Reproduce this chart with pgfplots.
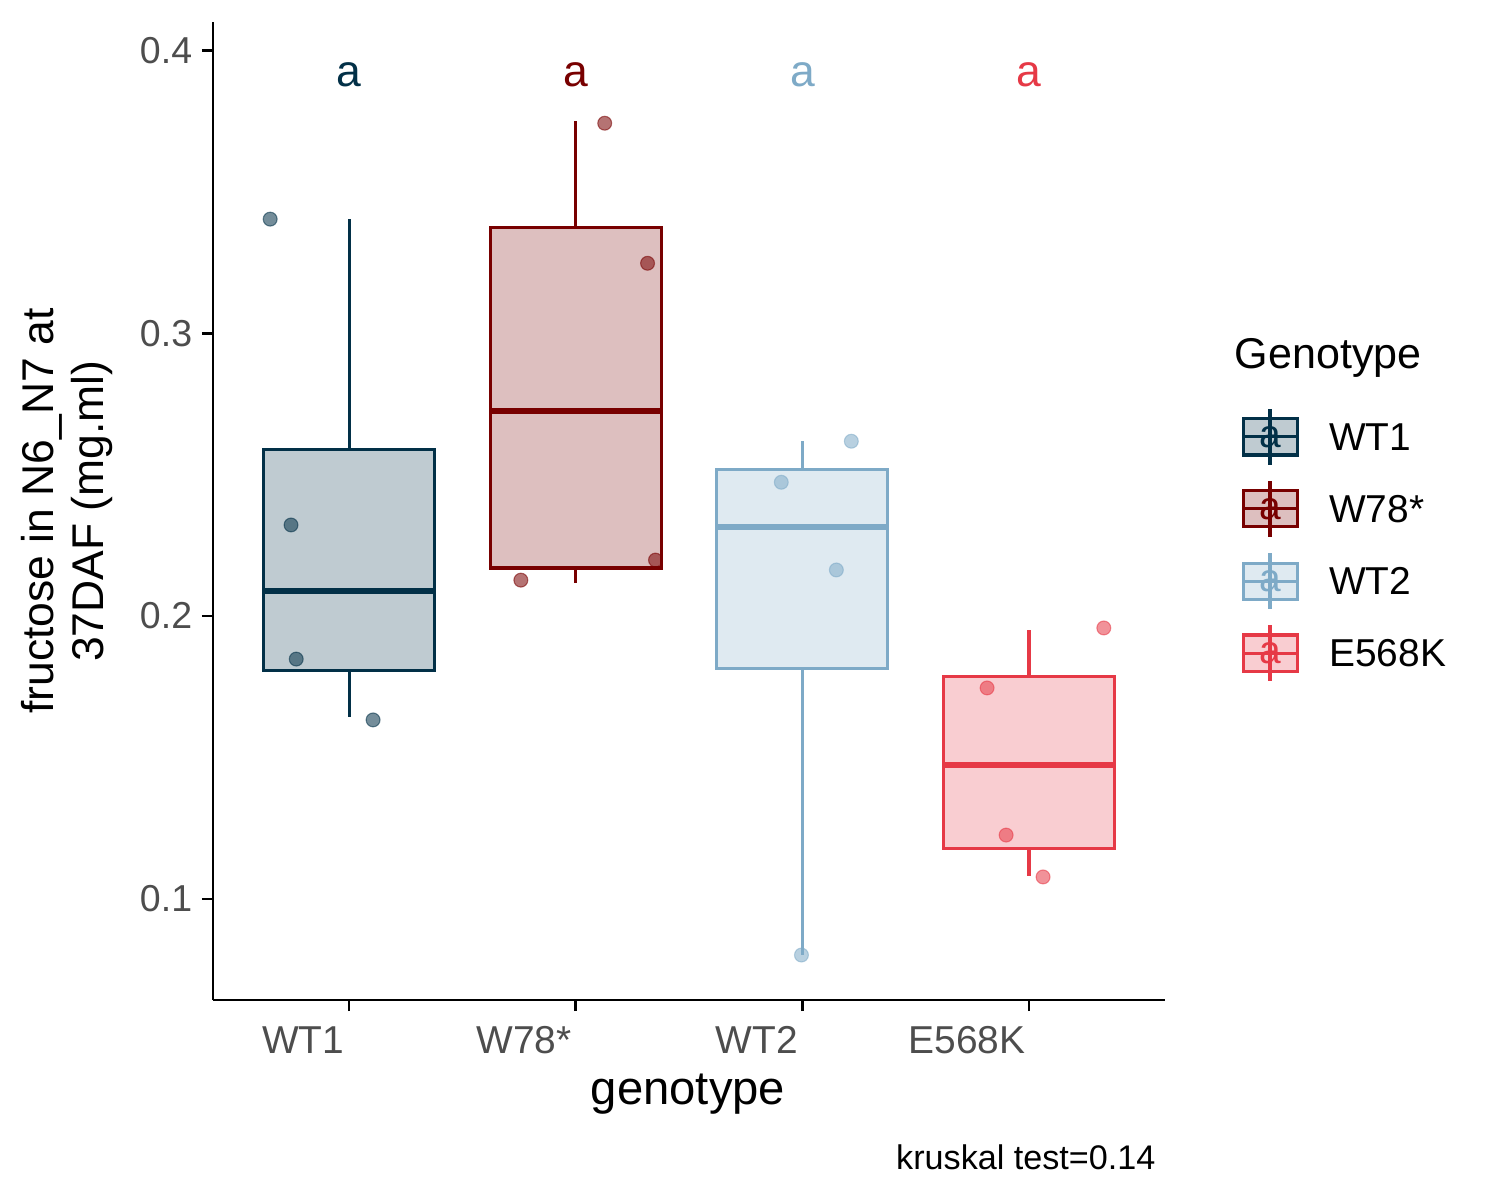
\documentclass[border=0pt]{standalone}
\usepackage{pgfplots}
\pgfplotsset{compat=1.18}
\usepgfplotslibrary{statistics}
\usepackage{fontspec}
\setmainfont{Liberation Sans}
\definecolor{cA}{RGB}{2,48,71}
\definecolor{cB}{RGB}{120,0,0}
\definecolor{cC}{RGB}{126,170,199}
\definecolor{cD}{RGB}{230,57,70}
\definecolor{tk}{RGB}{77,77,77}
\begin{document}
\begin{tikzpicture}[x=1pt,y=1pt]
\useasboundingbox (0,0) rectangle (540,432);
\begin{axis}[at={(76.7pt,72pt)},anchor=south west,scale only axis,width=342.7pt,height=352pt,
 xmin=0.4,xmax=4.6,ymin=0.0643,ymax=0.4099,
 axis lines=left,axis line style={line width=1pt,-},
 xtick={1,2,3,4},xticklabels={},
 ytick={0.1,0.2,0.3,0.4},yticklabels={0.1,0.2,0.3,0.4},
 yticklabel style={font=\fontsize{13.5}{13.5}\selectfont,text=tk},
 tick style={line width=1pt,black},major tick length=4pt,
 tick align=outside,
 ylabel={fructose in N6\_N7 at\\37DAF (mg.ml)},
 ylabel style={font=\fontsize{16}{18}\selectfont,align=center,yshift=3pt},
 clip=false,
 boxplot/draw direction=y,
 boxplot/box extend=0.754,boxplot/whisker extend=0,
 boxplot/every box/.style={line width=1.1pt},
 boxplot/every whisker/.style={line width=1.1pt},
 boxplot/every median/.style={line width=2pt},
]
\addplot[cA,fill=cA,fill opacity=0.25,draw opacity=1,line width=1.1pt,boxplot prepared={lower whisker=0.1643,lower quartile=0.1806,median=0.2088,upper quartile=0.259,upper whisker=0.3403,draw position=1}] coordinates {};
\addplot[cB,fill=cB,fill opacity=0.25,draw opacity=1,line width=1.1pt,boxplot prepared={lower whisker=0.2117,lower quartile=0.2170,median=0.2724,upper quartile=0.3375,upper whisker=0.3749,draw position=2}] coordinates {};
\addplot[cC,fill=cC,fill opacity=0.25,draw opacity=1,line width=1.1pt,boxplot prepared={lower whisker=0.0802,lower quartile=0.1816,median=0.2314,upper quartile=0.2519,upper whisker=0.2618,draw position=3}] coordinates {};
\addplot[cD,fill=cD,fill opacity=0.25,draw opacity=1,line width=1.1pt,boxplot prepared={lower whisker=0.1081,lower quartile=0.1177,median=0.1473,upper quartile=0.1788,upper whisker=0.1951,draw position=4}] coordinates {};
\addplot[only marks,mark=*,mark size=2.5pt,color=cA,opacity=0.55] coordinates {(0.652,0.3403)(0.744,0.2322)(0.767,0.1848)(1.106,0.1633)};
\addplot[only marks,mark=*,mark size=2.5pt,color=cB,opacity=0.55] coordinates {(2.128,0.3742)(2.317,0.3247)(2.352,0.2198)(1.758,0.2127)};
\addplot[only marks,mark=*,mark size=2.5pt,color=cC,opacity=0.55] coordinates {(3.216,0.2618)(2.907,0.2473)(3.150,0.2163)(2.996,0.0802)};
\addplot[only marks,mark=*,mark size=2.5pt,color=cD,opacity=0.55] coordinates {(4.33,0.1958)(3.815,0.1746)(3.899,0.1226)(4.062,0.1078)};
\node[text=cA,font=\fontsize{16}{16}\selectfont] at (axis cs:1,0.3915) {a};
\node[text=cB,font=\fontsize{16}{16}\selectfont] at (axis cs:2,0.3915) {a};
\node[text=cC,font=\fontsize{16}{16}\selectfont] at (axis cs:3,0.3915) {a};
\node[text=cD,font=\fontsize{16}{16}\selectfont] at (axis cs:4,0.3915) {a};
\end{axis}
\begin{scope}[font=\fontsize{14}{14}\selectfont,text=tk]
\node at (109.1,57.5) {WT1};
\node at (188.6,57.5) {W78*};
\node at (272.5,57.5) {WT2};
\node at (348.1,57.5) {E568K};
\end{scope}
\node[font=\fontsize{17}{17}\selectfont] at (247.7,38) {genotype};
\node[font=\fontsize{12.3}{12.3}\selectfont,anchor=east] at (419.5,15.5) {kruskal test=0.14};
\node[font=\fontsize{15.5}{15.5}\selectfont,anchor=west] at (441,303) {Genotype};
\foreach \c/\l/\yy in {cA/WT1/274.7, cB/W78*/248.8, cC/WT2/222.8, cD/E568K/196.9}{
  \fill[\c,opacity=0.25] (447.5,\yy-6.5) rectangle (467,\yy+6.5);
  \draw[\c,line width=1.1pt] (447.5,\yy-6.5) rectangle (467,\yy+6.5);
  \draw[\c,line width=1.1pt] (457.2,\yy-10) -- (457.2,\yy+10);
  \draw[\c,line width=1.1pt] (447.5,\yy) -- (467,\yy);
  \node[text=\c,font=\fontsize{14}{14}\selectfont] at (457.2,\yy) {a};
  \node[font=\fontsize{14}{14}\selectfont,anchor=west] at (475,\yy) {\l};
}
\end{tikzpicture}
\end{document}
